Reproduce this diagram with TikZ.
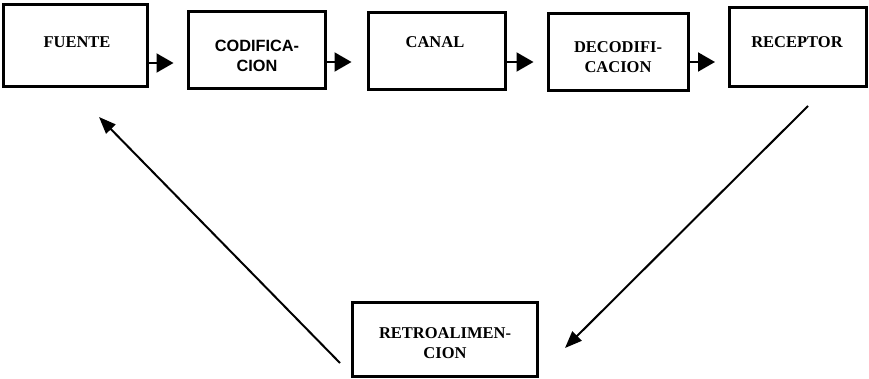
\documentclass[tikz,border=0pt]{standalone}
\usepackage{fontspec}
\setmainfont{Liberation Serif}
\setsansfont{Liberation Sans}
\usetikzlibrary{arrows.meta}
\begin{document}
\begin{tikzpicture}[x=1pt,y=-1pt,
  box/.style={draw,line width=3pt,inner sep=0pt},
  lbl/.style={font=\fontsize{16.5}{19.5}\selectfont\bfseries,align=center,inner sep=0pt},
  slbl/.style={font=\fontsize{16.3}{20}\selectfont\sffamily\bfseries,align=center,inner sep=0pt},
  harr/.style={line width=2pt,-{Triangle[length=17pt,width=19pt]}},
  darr/.style={line width=2pt,-{Triangle[length=17pt,width=13pt]}}]
\useasboundingbox (0,0) rectangle (869,379);
% boxes
\node[box,minimum width=144pt,minimum height=82pt] (f) at (75,46) {};
\node[box,minimum width=137pt,minimum height=77pt] (c) at (256.5,50.5) {};
\node[box,minimum width=137pt,minimum height=77pt] (k) at (436.5,51.5) {};
\node[box,minimum width=140pt,minimum height=77pt] (d) at (618,52.5) {};
\node[box,minimum width=137pt,minimum height=79pt] (r) at (798,47.5) {};
\node[box,minimum width=185pt,minimum height=74pt] (t) at (444.5,339) {};
% labels
\node[lbl] (ft) at (77,42) {FUENTE};
\node[slbl] (ct) at (257,56) {CODIFICA-\\CION};
\node[lbl] (kt) at (435,42) {CANAL};
\node[lbl] (dt) at (618,57) {DECODIFI-\\CACION};
\node[lbl] (rt) at (797,42) {RECEPTOR};
\node[lbl] (tt) at (445,343) {RETROALIMEN-\\CION};
% horizontal arrows
\draw[harr,shorten >=13pt] (f.east |- 0,63) -- (c.west |- 0,63);
\draw[harr,shorten >=15pt] (c.east |- 0,62) -- (k.west |- 0,62);
\draw[harr,shorten >=13pt] (k.east |- 0,62) -- (d.west |- 0,62);
\draw[harr,shorten >=13pt] (d.east |- 0,62) -- (r.west |- 0,62);
% diagonal arrows
\coordinate (la) at (340,363);
\coordinate (lb) at (99,117);
\coordinate (ra) at (808,106);
\coordinate (rb) at (565,348);
\draw[darr] (la) -- (lb);
\draw[darr] (ra) -- (rb);
\end{tikzpicture}
\end{document}
